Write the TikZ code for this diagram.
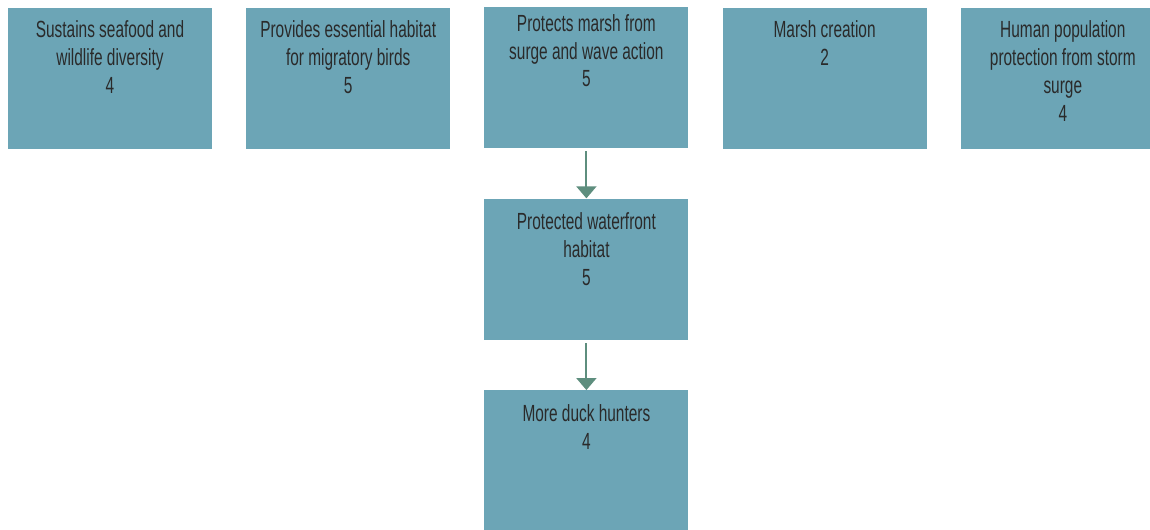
\documentclass[tikz,border=0pt]{standalone}
\usepackage{fontspec}
\setmainfont{Liberation Sans}[FakeStretch=0.66]
\usetikzlibrary{positioning,arrows.meta}

\definecolor{boxfill}{HTML}{6CA5B6}
\definecolor{boxtext}{HTML}{2A2A2A}
\definecolor{linkgreen}{HTML}{5E8E7E}

% box text, set from the top of the box
\newcommand{\boxlines}[2][0.2cm]{\parbox[c][2.82cm][t]{4.08cm}{\centering\vspace*{#1}\strut #2\par}}

\begin{document}
\begin{tikzpicture}[
        node distance=1cm and 0.67cm,
        effect/.style={rectangle, fill=boxfill, text=boxtext, inner sep=0pt,
            minimum width=4.08cm, minimum height=2.82cm,
            font=\fontsize{13.3}{15.9}\selectfont},
        link/.style={draw=linkgreen, line width=1.1pt, shorten <=0.06cm,
            -{Triangle[width=0.4cm,length=0.24cm]}}
    ]
    \clip (0,0) rectangle (23,-10.58);
    % top row
    \node[effect] (seafood) at (2.2,-1.57) {\boxlines{Sustains seafood and\\wildlife diversity\\4}};
    \node[effect, right=of seafood] (birds) {\boxlines{Provides essential habitat\\for migratory birds\\5}};
    \node[effect, right=of birds, yshift=0.02cm] (marsh) {\boxlines[0.09cm]{Protects marsh from\\surge and wave action\\5}};
    \node[effect, right=of marsh, yshift=-0.02cm] (creation) {\boxlines{Marsh creation\\2}};
    \node[effect, right=of creation] (human) {\boxlines{Human population\\protection from storm\\surge\\4}};
    % middle column
    \node[effect, below=of marsh] (waterfront) {\boxlines[0.22cm]{Protected waterfront\\habitat\\5}};
    \node[effect, below=of waterfront] (hunters) {\boxlines[0.23cm]{More duck hunters\\4}};
    \draw[link] (marsh) -- (waterfront);
    \draw[link] (waterfront) -- (hunters);
\end{tikzpicture}
\end{document}
